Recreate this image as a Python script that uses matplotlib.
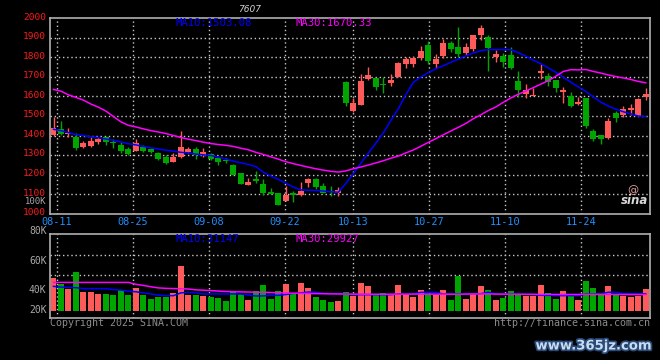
import matplotlib
matplotlib.use("Agg")
import matplotlib.pyplot as plt
import matplotlib.patheffects as pe
import matplotlib.transforms as mtrans
import numpy as np

# ---------------- data ----------------
date_labels = ['08-11', '08-25', '09-08', '09-22', '10-13', '10-27', '11-10', '11-24']
date_index = [1, 11, 21, 31, 40, 50, 60, 70]

opens = [1403, 1434, 1408, 1394, 1343, 1348, 1367, 1391, 1367, 1352,
         1330, 1322, 1343, 1331, 1312, 1292, 1266, 1292, 1316, 1330,
         1300, 1304, 1283, 1273, 1249, 1207, 1147, 1178, 1152, 1113,
         1104, 1065, 1104, 1096, 1159, 1178, 1142, 1116, 1104, 1676,
         1526, 1556, 1689, 1693, 1662, 1670, 1701, 1766, 1766, 1795,
         1863, 1765, 1807, 1875, 1855, 1824, 1841, 1915, 1902, 1804,
         1807, 1812, 1679, 1613, 1601, 1722, 1705, 1684, 1624, 1602,
         1563, 1591, 1423, 1403, 1389, 1517, 1505, 1531, 1502, 1599]
closes = [1437, 1408, 1415, 1335, 1363, 1372, 1381, 1369, 1360, 1323,
          1306, 1363, 1320, 1314, 1281, 1261, 1292, 1343, 1330, 1300,
          1317, 1280, 1266, 1268, 1198, 1152, 1164, 1168, 1108, 1103,
          1045, 1096, 1097, 1118, 1176, 1138, 1108, 1109, 1121, 1568,
          1568, 1679, 1710, 1650, 1657, 1684, 1773, 1790, 1799, 1833,
          1781, 1790, 1875, 1843, 1816, 1855, 1915, 1949, 1846, 1817,
          1778, 1747, 1633, 1633, 1607, 1732, 1676, 1641, 1633, 1553,
          1573, 1449, 1382, 1382, 1474, 1491, 1536, 1543, 1587, 1613]
highs = [1493, 1474, 1437, 1411, 1372, 1391, 1394, 1398, 1381, 1367,
         1340, 1381, 1352, 1335, 1317, 1300, 1312, 1423, 1340, 1343,
         1338, 1310, 1292, 1283, 1256, 1210, 1181, 1219, 1176, 1130,
         1106, 1142, 1116, 1164, 1184, 1181, 1156, 1142, 1135, 1678,
         1591, 1713, 1752, 1696, 1701, 1713, 1778, 1804, 1809, 1858,
         1884, 1816, 1894, 1884, 1957, 1875, 1917, 1966, 1915, 1838,
         1821, 1851, 1730, 1662, 1645, 1765, 1722, 1686, 1650, 1621,
         1599, 1594, 1434, 1404, 1491, 1526, 1551, 1561, 1590, 1645]
lows = [1398, 1403, 1394, 1326, 1338, 1343, 1355, 1352, 1338, 1312,
        1302, 1319, 1314, 1309, 1275, 1253, 1263, 1287, 1309, 1280,
        1292, 1275, 1249, 1258, 1196, 1150, 1145, 1159, 1096, 1100,
        1043, 1063, 1061, 1091, 1135, 1125, 1104, 1091, 1089, 1553,
        1519, 1554, 1683, 1633, 1619, 1655, 1700, 1744, 1752, 1787,
        1765, 1744, 1795, 1829, 1804, 1812, 1833, 1889, 1730, 1778,
        1752, 1741, 1599, 1591, 1600, 1689, 1655, 1624, 1568, 1548,
        1556, 1437, 1372, 1357, 1382, 1468, 1497, 1505, 1500, 1582]

ma10 = [1432, 1425, 1415, 1405, 1400, 1394, 1389, 1382, 1375, 1367,
        1358, 1352, 1344, 1337, 1331, 1325, 1320, 1314, 1311, 1305,
        1301, 1298, 1289, 1280, 1269, 1260, 1252, 1241, 1212, 1193,
        1175, 1156, 1136, 1122, 1120, 1119, 1116, 1112, 1110, 1155,
        1205, 1259, 1310, 1361, 1413, 1477, 1537, 1609, 1672, 1700,
        1722, 1742, 1757, 1775, 1791, 1808, 1822, 1834, 1840, 1840,
        1840, 1839, 1824, 1806, 1786, 1768, 1746, 1724, 1698, 1673,
        1649, 1626, 1598, 1571, 1551, 1535, 1522, 1511, 1500, 1497]
ma30 = [1636, 1627, 1608, 1595, 1581, 1561, 1545, 1525, 1497, 1470,
        1452, 1444, 1434, 1425, 1418, 1410, 1400, 1390, 1381, 1374,
        1366, 1359, 1354, 1350, 1344, 1335, 1327, 1314, 1303, 1291,
        1279, 1266, 1256, 1247, 1238, 1230, 1223, 1217, 1213, 1219,
        1230, 1239, 1249, 1260, 1271, 1284, 1295, 1311, 1326, 1345,
        1365, 1384, 1404, 1423, 1442, 1462, 1486, 1506, 1528, 1546,
        1570, 1592, 1611, 1628, 1645, 1663, 1681, 1703, 1728, 1737,
        1736, 1738, 1728, 1720, 1710, 1702, 1695, 1687, 1677, 1670]

volume = [60.0, 49.1, 40.0, 70.9, 34.5, 34.5, 30.9, 30.9, 29.1, 38.2,
          29.1, 41.8, 29.1, 21.8, 25.5, 25.5, 32.7, 81.8, 29.1, 29.1,
          27.3, 25.5, 23.6, 18.2, 36.4, 30.9, 20.0, 36.4, 47.3, 21.8,
          36.4, 49.1, 30.9, 50.9, 41.8, 25.5, 20.0, 16.4, 18.2, 34.5,
          27.3, 50.9, 45.5, 29.1, 32.7, 29.1, 47.3, 30.9, 25.5, 38.2,
          30.9, 29.1, 38.2, 20.0, 63.6, 21.8, 32.7, 45.5, 38.2, 20.0,
          23.6, 36.4, 29.1, 27.3, 27.3, 47.3, 32.7, 21.8, 36.4, 27.3,
          20.0, 54.5, 41.8, 29.1, 45.5, 30.9, 27.3, 25.5, 27.3, 40.0]
vol_ma10 = [44.8, 43.5, 43.0, 42.5, 40.6, 40.6, 40.6, 40.6, 39.0, 38.0,
            36.0, 35.0, 33.0, 31.0, 28.8, 28.0, 27.9, 33.0, 34.0, 33.0,
            31.0, 31.0, 31.0, 31.0, 31.0, 31.0, 29.0, 27.3, 27.5, 28.5,
            28.5, 30.0, 32.0, 33.0, 34.5, 34.0, 32.0, 31.5, 31.5, 31.5,
            29.7, 29.7, 29.7, 29.7, 29.7, 29.7, 30.9, 30.9, 30.9, 33.9,
            33.9, 33.9, 30.9, 30.9, 30.9, 30.9, 31.5, 31.5, 34.0, 30.9,
            30.9, 30.9, 30.9, 30.3, 30.3, 28.5, 28.5, 28.0, 28.0, 28.0,
            28.0, 30.9, 30.9, 30.9, 34.0, 34.0, 31.5, 31.5, 31.5, 31.1]
vol_ma30 = [52.0, 52.0, 52.0, 52.0, 52.0, 52.0, 52.0, 52.0, 52.0, 52.0,
            52.0, 48.5, 46.5, 44.0, 42.0, 41.2, 40.8, 40.5, 40.0, 38.5,
            37.8, 37.2, 36.2, 35.5, 35.2, 34.8, 34.5, 34.2, 34.0, 33.7,
            33.2, 32.8, 32.3, 32.0, 31.8, 31.6, 31.4, 31.2, 31.0, 30.9,
            30.6, 30.6, 30.5, 30.5, 30.5, 30.6, 30.6, 30.6, 30.8, 30.8,
            30.8, 30.6, 30.6, 30.5, 30.5, 30.8, 31.0, 31.0, 31.0, 30.8,
            30.6, 30.6, 30.5, 30.4, 30.4, 30.2, 30.2, 30.1, 30.1, 30.1,
            30.1, 30.3, 30.3, 30.2, 30.3, 30.2, 30.1, 30.0, 29.9, 29.9]

# ---------------- style ----------------
BG = '#000000'
RED = '#FF5A5A'
GREEN = '#00A600'
BLUE = '#0000FF'
MAG = '#FF00FF'
GRID = '#C8C8C8'
FRAME = '#B0B0B0'
MONO = 'DejaVu Sans Mono'

W, H = 660, 360
fig = plt.figure(figsize=(W / 100, H / 100), dpi=100, facecolor=BG)


def fpos(x, y):
    return x / W, 1 - y / H


def pax(l, t, r, b):
    return [l / W, 1 - b / H, (r - l) / W, (b - t) / H]


ax = fig.add_axes(pax(50, 18.3, 650, 213.7))
axv = fig.add_axes(pax(50, 234, 650, 318))

n = len(opens)
x = np.arange(n)
up = [c >= o for o, c in zip(opens, closes)]
cols = [RED if u else GREEN for u in up]

xl = (-0.467, 79.57)
grid_x = [40 + (i - 40) * 1.0139 for i in date_index]
dots = (0, (1, 2))

for a in (ax, axv):
    a.set_facecolor(BG)
    a.set_xlim(*xl)
    for s in a.spines.values():
        s.set_color(FRAME)
        s.set_linewidth(1.2)
    a.tick_params(length=0)
    for gx in grid_x:
        a.axvline(gx, color=GRID, lw=1, ls=dots, zorder=0)

# price panel
ax.set_ylim(1000, 2000)
for gy in range(1100, 2000, 100):
    ax.axhline(gy, color=GRID, lw=1, ls=dots, zorder=0)
ax.vlines(x, lows, highs, colors=cols, lw=1, zorder=2)
bottoms = [min(o, c) for o, c in zip(opens, closes)]
heights = [max(abs(c - o), 5) for o, c in zip(opens, closes)]
ax.bar(x, heights, bottom=bottoms, width=0.8, color=cols, linewidth=0, zorder=3)
ax.plot(x, ma10, color=BLUE, lw=1.1, zorder=4)
ax.plot(x, ma30, color=MAG, lw=1.1, zorder=4)
ax.set_yticks(range(1000, 2001, 100))
ax.set_yticklabels([str(v) for v in range(1000, 2001, 100)],
                   color='#FF1A1A', fontsize=6.8, family=MONO)
ax.tick_params(axis='y', pad=3)
shift = mtrans.ScaledTranslation(0, 1.5 / 72, fig.dpi_scale_trans)
for lab in ax.get_yticklabels():
    lab.set_transform(lab.get_transform() + shift)
ax.set_xticks(grid_x)
ax.set_xticklabels(date_labels, color='#1E90FF', fontsize=7.4, family=MONO)
ax.tick_params(axis='x', pad=2.5)

# volume panel
axv.set_ylim(-12.7, 140)
for gy in (64.9, 101.3):
    axv.axhline(gy, color=GRID, lw=1, ls=dots, zorder=0)
axv.bar(x, volume, width=0.8, color=cols, linewidth=0, zorder=2)
axv.plot(x, vol_ma10, color=BLUE, lw=1.1, zorder=3)
axv.plot(x, vol_ma30, color=MAG, lw=1.1, zorder=3)
axv.set_xticks([])
axv.set_yticks([])

# texts
txt = dict(family=MONO, fontsize=7.6)
fig.text(*fpos(175, 23), 'MA10:1503.08', color=BLUE, va='center', ha='left', **txt)
fig.text(*fpos(295, 23), 'MA30:1670.33', color=MAG, va='center', ha='left', **txt)
fig.text(*fpos(175, 238.5), 'MA10:31147', color=BLUE, va='center', ha='left', **txt)
fig.text(*fpos(295, 238.5), 'MA30:29927', color=MAG, va='center', ha='left', **txt)
fig.text(*fpos(46.5, 202), '100K', color='#A8A8A8', va='center', ha='right',
         family=MONO, fontsize=6.4)
for lab, yy in (('80K', 231), ('60K', 261), ('40K', 290), ('20K', 310)):
    fig.text(*fpos(46.5, yy), lab, color='#A8A8A8', va='center', ha='right',
             family=MONO, fontsize=7.0)
fig.text(*fpos(50, 323.5), 'Copyright 2025 SINA.COM', color='#8C8C8C',
         va='center', ha='left', family=MONO, fontsize=7.2)
fig.text(*fpos(650, 323.5), 'http://finance.sina.com.cn', color='#8C8C8C',
         va='center', ha='right', family=MONO, fontsize=7.2)
fig.text(*fpos(250, 10), '7607', color='#D0D0D0', va='center', ha='center',
         family='DejaVu Sans', fontsize=6.5, style='italic')
# sina logo
fig.text(*fpos(633, 190), '@', color='#E8A0A0', va='center', ha='center',
         fontsize=8, family='DejaVu Sans')
fig.text(*fpos(635, 201), 'sina', color='#D8D8D8', va='center', ha='center',
         fontsize=8.5, family='DejaVu Sans', style='italic', weight='bold')
# watermark
fig.text(*fpos(594, 346), 'www.365jz.com', color='#C8DCF0', va='center', ha='center',
         fontsize=9.5, family='DejaVu Sans', weight='bold',
         path_effects=[pe.withStroke(linewidth=2.5, foreground='#2A4A7A')])

fig.savefig('out.png', dpi=100, facecolor=BG)
